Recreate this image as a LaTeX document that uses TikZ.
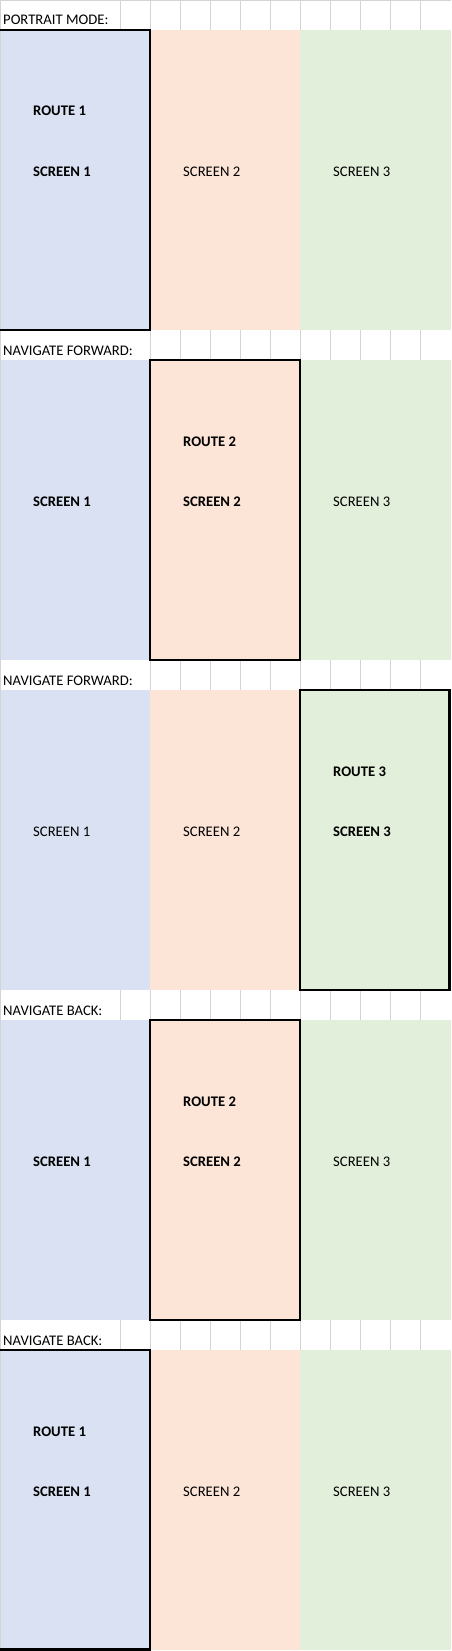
\documentclass[tikz,border=0pt]{standalone}
\usepackage{fontspec}
\setmainfont{Carlito}
\definecolor{cblue}{HTML}{D9E1F2}
\definecolor{corange}{HTML}{FCE4D6}
\definecolor{cgreen}{HTML}{E2EFDA}
\definecolor{cgrid}{HTML}{D4D4D4}
\begin{document}
\begin{tikzpicture}[x=1pt,y=-1pt,
  grid/.style={draw=cgrid,line width=1pt},
  sel/.style={draw=black,line width=2.5pt,line cap=rect},
  hdr/.style={anchor=base west,inner sep=0pt,font=\fontsize{14.67}{17}\selectfont},
  lbl/.style={anchor=base west,inner sep=0pt,font=\fontsize{14.67}{17}\selectfont},
  blbl/.style={lbl,font=\fontsize{14.67}{17}\selectfont\bfseries}]
\useasboundingbox (0,0) rectangle (451,1651);
\fill[white] (0,0) rectangle (451,1651);
% colour blocks
\foreach \t in {0,330,660,990,1320}{
  \fill[cblue] (0,\t+30) rectangle (150,\t+330);
  \fill[corange] (150,\t+30) rectangle (300,\t+330);
  \fill[cgreen] (300,\t+30) rectangle (451,\t+330);
}
% header grid lines
\draw[grid] (0,0.5) -- (451,0.5);
\draw[grid] (0.5,0) -- (0.5,1651);
\foreach \x in {120,150,...,420} \draw[grid] (\x,0) -- (\x,30);
\foreach \x in {150,180,...,420} \draw[grid] (\x,330) -- (\x,360);
\foreach \x in {150,180,...,420} \draw[grid] (\x,660) -- (\x,690);
\foreach \x in {120,150,...,420} \draw[grid] (\x,990) -- (\x,1020);
\foreach \x in {120,150,...,420} \draw[grid] (\x,1320) -- (\x,1350);
% headers
\node[hdr] (h1) at (3,25) {PORTRAIT MODE:};
\node[hdr] (h2) at (3,355) {NAVIGATE FORWARD:};
\node[hdr] (h3) at (3,685) {NAVIGATE FORWARD:};
\node[hdr] (h4) at (3,1015) {NAVIGATE BACK:};
\node[hdr] (h5) at (3,1345) {NAVIGATE BACK:};
% section 1
\node[blbl] (r1a) at (33,116) {ROUTE 1};
\node[blbl] (s1a) at (33,176) {SCREEN 1};
\node[lbl] (s2a) at (183,176) {SCREEN 2};
\node[lbl] (s3a) at (333,176) {SCREEN 3};
\draw[sel] (0,30) -- (150,30) -- (150,330) -- (0,330);
% section 2
\node[blbl] (r2b) at (183,446) {ROUTE 2};
\node[blbl] (s1b) at (33,506) {SCREEN 1};
\node[blbl] (s2b) at (183,506) {SCREEN 2};
\node[lbl] (s3b) at (333,506) {SCREEN 3};
\draw[sel] (150,360) rectangle (300,660);
% section 3
\node[blbl] (r3c) at (333,776) {ROUTE 3};
\node[lbl] (s1c) at (33,836) {SCREEN 1};
\node[lbl] (s2c) at (183,836) {SCREEN 2};
\node[blbl] (s3c) at (333,836) {SCREEN 3};
\draw[sel] (300,690) rectangle (449.5,990);
% section 4
\node[blbl] (r2d) at (183,1106) {ROUTE 2};
\node[blbl] (s1d) at (33,1166) {SCREEN 1};
\node[blbl] (s2d) at (183,1166) {SCREEN 2};
\node[lbl] (s3d) at (333,1166) {SCREEN 3};
\draw[sel] (150,1020) rectangle (300,1320);
% section 5
\node[blbl] (r1e) at (33,1436) {ROUTE 1};
\node[blbl] (s1e) at (33,1496) {SCREEN 1};
\node[lbl] (s2e) at (183,1496) {SCREEN 2};
\node[lbl] (s3e) at (333,1496) {SCREEN 3};
\draw[sel] (0,1350) -- (150,1350) -- (150,1649.5) -- (0,1649.5);
\end{tikzpicture}
\end{document}
